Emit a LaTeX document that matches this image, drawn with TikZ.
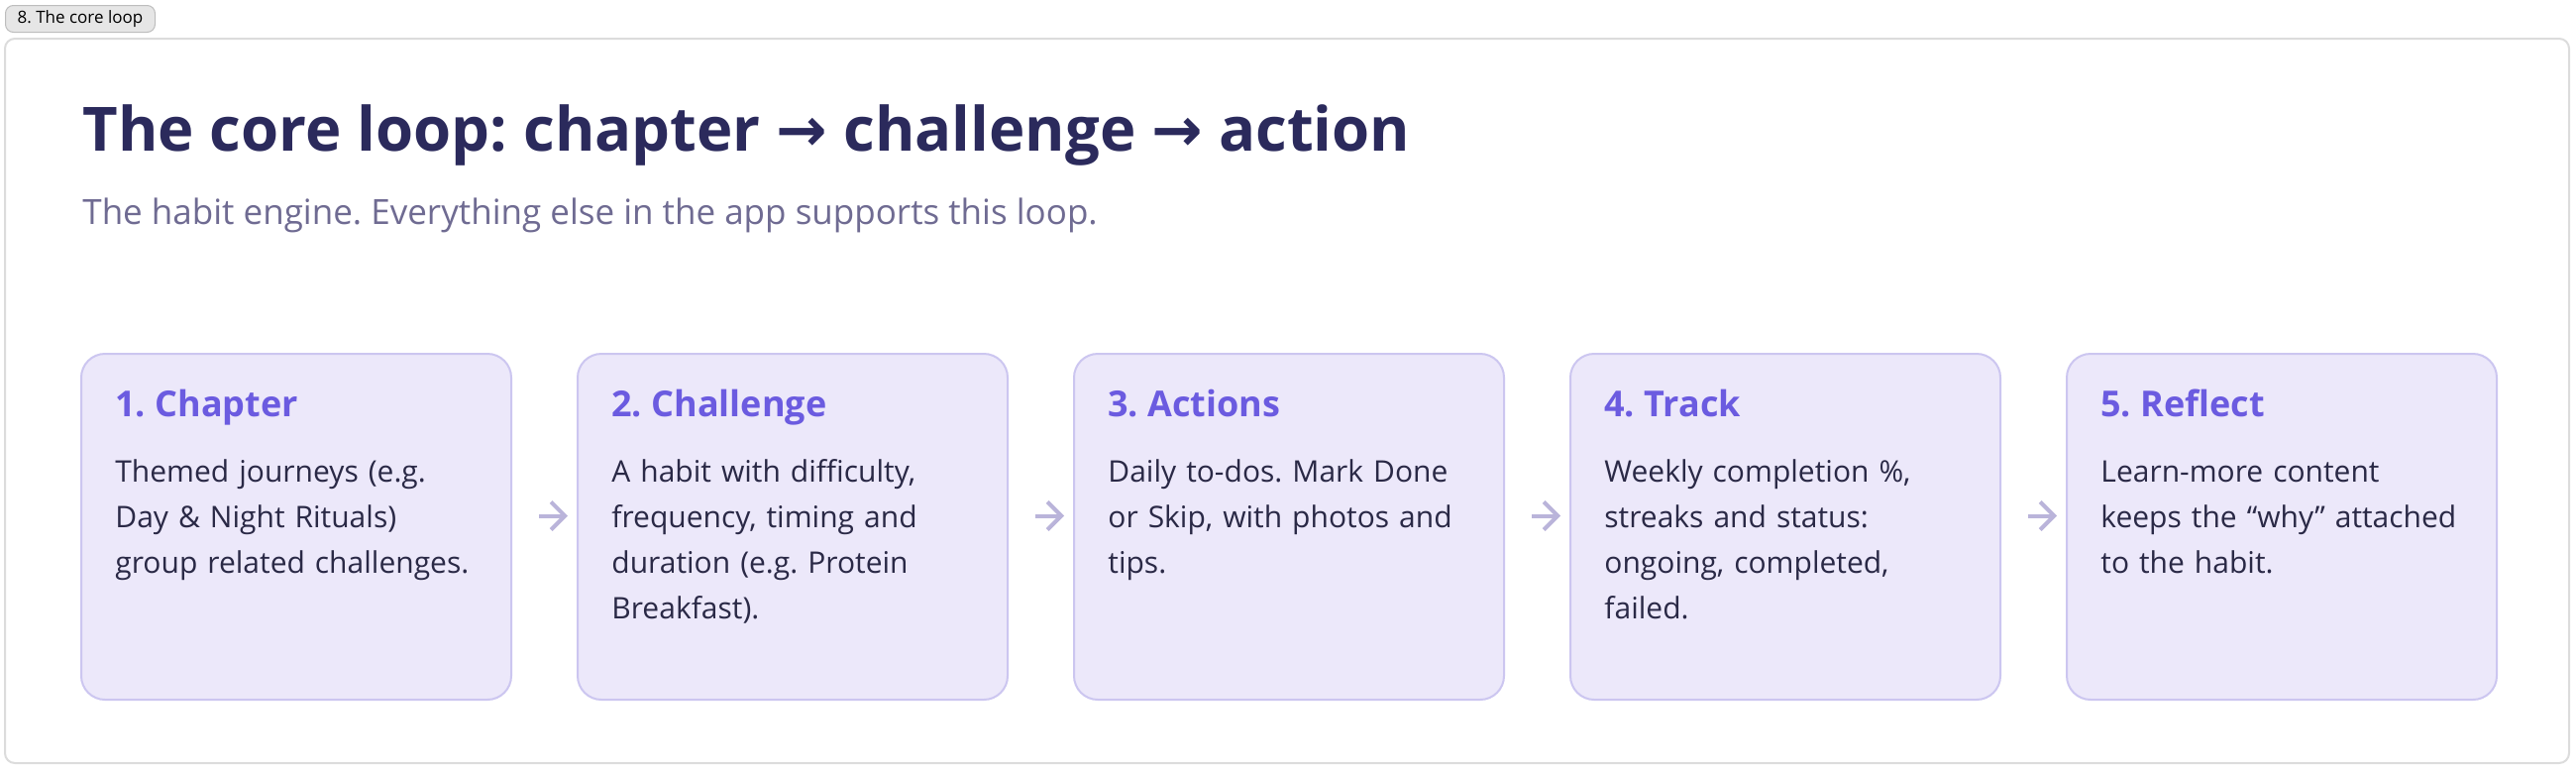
\documentclass[tikz,border=0pt]{standalone}
\usepackage{fontspec}
\setmainfont{Open Sans}
\newfontfamily\arrowfont{DejaVu Sans}
\usetikzlibrary{arrows.meta,positioning}
\frenchspacing

\definecolor{titlecol}{HTML}{2B2A5C}
\definecolor{bodycol}{HTML}{2A2946}
\definecolor{subcol}{HTML}{6F6B92}
\definecolor{headcol}{HTML}{6B5BE0}
\definecolor{cardfill}{HTML}{ECE8FA}
\definecolor{cardline}{HTML}{CCC6F0}
\definecolor{arrowcol}{HTML}{BAB4DA}
\definecolor{framecol}{HTML}{DCDCDC}
\definecolor{tabfill}{HTML}{E6E6E6}
\definecolor{tabline}{HTML}{BDBDBD}

\tikzset{
  stepcard/.style={draw=cardline, fill=cardfill, line width=1pt, rounded corners=12pt,
    minimum width=217pt, minimum height=174.5pt, anchor=north west, inner sep=0pt},
  stephead/.style={anchor=base west, inner sep=0pt, text=headcol,
    font=\fontsize{18}{22}\selectfont\bfseries},
  stepbody/.style={anchor=base west, inner sep=0pt, align=left, text width=200pt, text=bodycol,
    font=\fontsize{15}{23}\selectfont},
  steparrow/.style={-{Straight Barb[length=7pt,width=14pt]}, draw=arrowcol, line width=2pt},
}

\begin{document}
\begin{tikzpicture}[x=0.5pt, y=-0.5pt]
    \useasboundingbox (0,0) rectangle (2600,777);
    % Frame and tab
    \draw[framecol, line width=1pt, fill=white, rounded corners=5pt] (5,39) rectangle (2593,770);
    \node[draw=tabline, fill=tabfill, line width=0.5pt, rounded corners=4pt, anchor=north west,
          minimum width=75.5pt, minimum height=13.5pt, inner sep=0pt,
          font=\fontsize{8.5}{10}\selectfont] (tab) at (5,5) {8. The core loop};
    % Heading
    \node[anchor=base west, inner sep=0pt, text=titlecol, font=\fontsize{30.8}{38}\selectfont\bfseries]
        (title) at (83,152) {The core loop: chapter {\arrowfont →} challenge {\arrowfont →} action};
    \node[anchor=base west, inner sep=0pt, text=subcol, font=\fontsize{17.5}{20}\selectfont]
        (sub) at (83,226) {The habit engine. Everything else in the app supports this loop.};
    % Steps
    \foreach \i/\head/\body in {
        1/Chapter/{Themed journeys (e.g.\\Day \& Night Rituals)\\group related challenges.},
        2/Challenge/{A habit with difficulty,\\frequency, timing and\\duration (e.g. Protein\\Breakfast).},
        3/Actions/{Daily to-dos. Mark Done\\or Skip, with photos and\\tips.},
        4/Track/{Weekly completion \%,\\streaks and status:\\ongoing, completed,\\failed.},
        5/Reflect/{Learn-more content\\keeps the “why” attached\\to the habit.}}
    {
    \node[stepcard] (c\i) at ({81+501*(\i-1)},356) {};
    \node[stephead] (h\i) at ([shift={(35,64)}]c\i.north west) {\i. \head};
    \node[stepbody] (t\i) at ([shift={(35,130)}]c\i.north west) {\body};
    }
    % Arrows
    \foreach \i [evaluate=\i as \j using int(\i+1)] in {1,...,4}
    {
    \draw[steparrow] ([shift={(27,-11)}]c\i.east) -- ([shift={(-9,-11)}]c\j.west);
    }
\end{tikzpicture}
\end{document}
